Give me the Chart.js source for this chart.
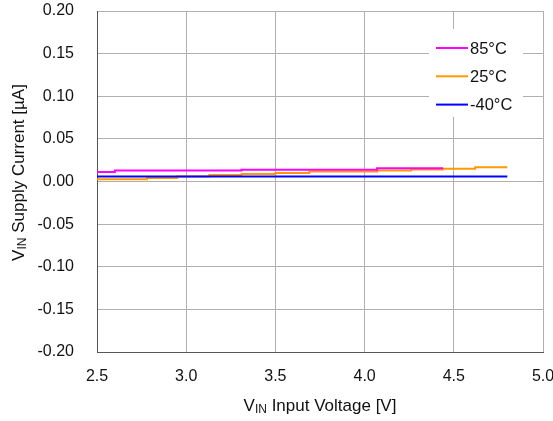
<!DOCTYPE html>
<html>
<head>
<meta charset="utf-8">
<script src="https://cdn.jsdelivr.net/npm/chart.js@4.4.0/dist/chart.umd.min.js"></script>
<style>
  html, body { margin: 0; padding: 0; background: #fff; }
  #wrap { width: 553px; height: 421px; }
</style>
</head>
<body>
<div id="wrap"><canvas id="supply-current"></canvas></div>
<script>
const labels = ["85°C", "25°C", "-40°C"];
const colors = ["#ff00ff", "#ff9900", "#0000ff"];

// step points: value holds from this voltage to the next one
const hotV = [2.5, 2.6, 3.31, 4.07, 4.44];
const hotI = [0.011, 0.0129, 0.0139, 0.0156, 0.0156];

const roomV = [2.5, 2.78, 2.95, 3.13, 3.31, 3.5, 3.69, 4.07, 4.26, 4.44, 4.62, 4.8];
const roomI = [0.0027, 0.004, 0.006, 0.0077, 0.0089, 0.01, 0.0117, 0.0129, 0.0141, 0.015, 0.0168, 0.0168];

const coldV = [2.5, 4.8];
const coldI = [0.006, 0.006];

const xTicks = [2.5, 3.0, 3.5, 4.0, 4.5, 5.0];
const yTicks = [-0.2, -0.15, -0.1, -0.05, 0, 0.05, 0.1, 0.15, 0.2];

const FONT = "'Liberation Sans', Arial, sans-serif";

const toPoints = (xs, ys) => xs.map((x, i) => ({ x: x, y: ys[i] }));

// axis titles with the "IN" subscript after V
const drawRuns = (ctx, runs, cx, y) => {
  let total = 0;
  runs.forEach((r) => {
    ctx.font = r.size + "px " + FONT;
    r.w = ctx.measureText(r.text).width;
    total += r.w;
  });
  let x = cx - total / 2;
  runs.forEach((r) => {
    ctx.font = r.size + "px " + FONT;
    ctx.fillText(r.text, x, y + r.dy);
    x += r.w;
  });
};

const axisTitles = {
  id: "axisTitles",
  afterDraw(chart) {
    const ctx = chart.ctx;
    const area = chart.chartArea;
    ctx.save();
    ctx.fillStyle = "#111";
    ctx.textBaseline = "alphabetic";
    ctx.textAlign = "left";
    drawRuns(ctx, [
      { text: "V", size: 17, dy: 0 },
      { text: "IN", size: 12, dy: 2 },
      { text: " Input Voltage [V]", size: 17, dy: 0 },
    ], (area.left + area.right) / 2, 411);

    ctx.translate(24, (area.top + area.bottom) / 2 - 9);
    ctx.rotate(-Math.PI / 2);
    drawRuns(ctx, [
      { text: "V", size: 17, dy: 0 },
      { text: "IN", size: 12, dy: 2 },
      { text: " Supply Current [µA]", size: 17, dy: 0 },
    ], 0, 0);
    ctx.restore();
  },
};

const boxLegend = {
  id: "boxLegend",
  afterDatasetsDraw(chart) {
    const ctx = chart.ctx;
    ctx.save();
    ctx.fillStyle = "#fff";
    ctx.fillRect(429, 29, 94, 88);
    chart.data.datasets.forEach((ds, i) => {
      const y = 48 + i * 28.3;
      ctx.strokeStyle = ds.borderColor;
      ctx.lineWidth = 2;
      ctx.beginPath();
      ctx.moveTo(436, y);
      ctx.lineTo(468, y);
      ctx.stroke();
      ctx.fillStyle = "#111";
      ctx.font = "16.5px " + FONT;
      ctx.textBaseline = "middle";
      ctx.fillText(ds.label, 470, y + 1);
    });
    ctx.restore();
  },
};

const ctx = document.getElementById("supply-current");

new Chart(ctx, {
  type: "line",
  data: {
    datasets: [
      {
        label: labels[0],
        data: toPoints(hotV, hotI),
        borderColor: colors[0],
        order: 1,
      },
      {
        label: labels[1],
        data: toPoints(roomV, roomI),
        borderColor: colors[1],
        order: 2,
      },
      {
        label: labels[2],
        data: toPoints(coldV, coldI),
        borderColor: colors[2],
        order: 0,
      },
    ],
  },
  options: {
    responsive: true,
    maintainAspectRatio: false,
    animation: false,
    layout: { padding: { left: 0, right: 10, top: 11, bottom: 0 } },
    elements: {
      line: { borderWidth: 2, stepped: "before", fill: false },
      point: { radius: 0 },
    },
    plugins: {
      legend: { display: false },
      tooltip: { enabled: false },
    },
    scales: {
      x: {
        type: "linear",
        min: 2.5,
        max: 5.0,
        afterBuildTicks: (scale) => {
          scale.ticks = xTicks.map((v) => ({ value: v }));
        },
        afterFit: (scale) => {
          scale.height = 69;
          scale.paddingLeft = 0;
          scale.paddingRight = 0;
        },
        grid: { color: "#b0b0b0", drawTicks: false },
        border: { color: "#555", width: 1 },
        ticks: {
          padding: 15,
          color: "#111",
          font: { family: FONT, size: 16 },
          callback: (v) => v.toFixed(1),
        },
      },
      y: {
        min: -0.2,
        max: 0.2,
        afterBuildTicks: (scale) => {
          scale.ticks = yTicks.map((v) => ({ value: v }));
        },
        afterFit: (scale) => {
          scale.width = 97;
          scale.paddingTop = 0;
          scale.paddingBottom = 0;
        },
        grid: { color: "#b0b0b0", drawTicks: false },
        border: { color: "#555", width: 1 },
        ticks: {
          padding: 23,
          color: "#111",
          font: { family: FONT, size: 16 },
          callback: (v) => (Math.abs(v) < 1e-9 ? 0 : v).toFixed(2),
        },
      },
    },
  },
  plugins: [boxLegend, axisTitles],
});
</script>
</body>
</html>
